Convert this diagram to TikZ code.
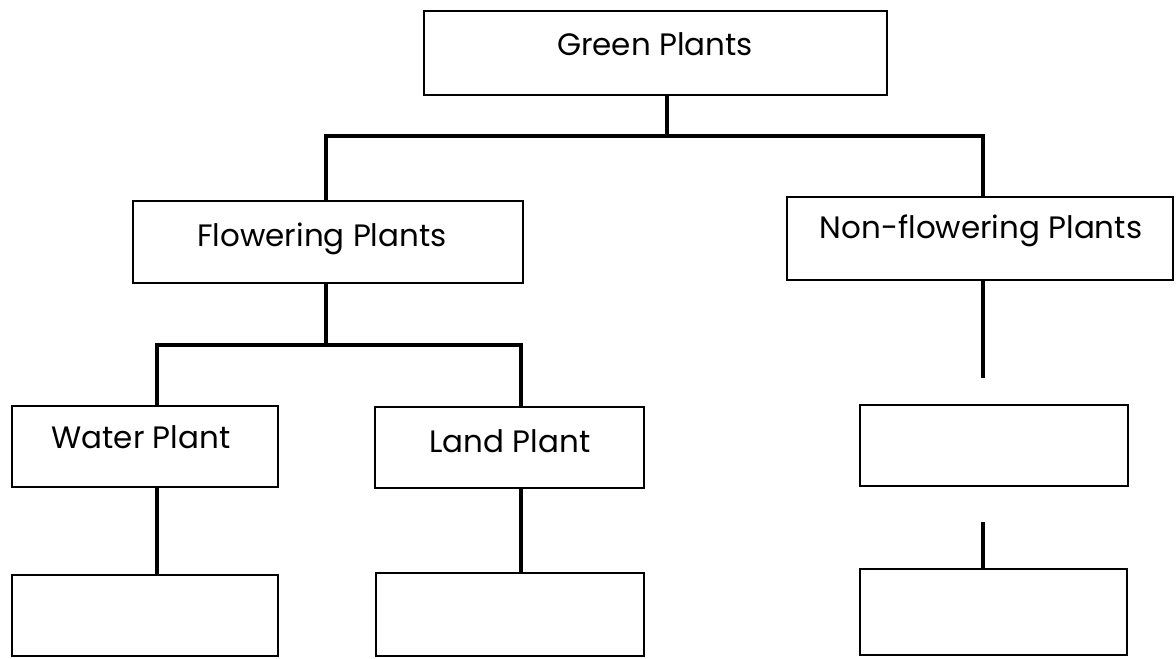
\documentclass[tikz,border=0pt]{standalone}
\usepackage{fontspec}
\setmainfont{Poppins}
\begin{document}
\begin{tikzpicture}[x=0.025cm,y=-0.025cm,
  box/.style={draw=black,line width=1.3pt,rectangle,inner sep=0pt},
  conn/.style={draw=black,line width=2.4pt},
  lbl/.style={inner sep=0pt,anchor=base,font=\fontsize{22}{26}\selectfont}]
\useasboundingbox (0,0) rectangle (1176,658);
% boxes (centre, width, height)
\node[box,minimum width=463*0.025cm,minimum height=84*0.025cm] (green) at (655.5,53) {};
\node[box,minimum width=390*0.025cm,minimum height=82*0.025cm] (flow) at (328,242) {};
\node[box,minimum width=386*0.025cm,minimum height=83*0.025cm] (non) at (980,238.5) {};
\node[box,minimum width=266*0.025cm,minimum height=81*0.025cm] (water) at (145,446.5) {};
\node[box,minimum width=269*0.025cm,minimum height=81*0.025cm] (land) at (509.5,447.5) {};
\node[box,minimum width=266*0.025cm,minimum height=81*0.025cm] (wbox) at (145,615.5) {};
\node[box,minimum width=268*0.025cm,minimum height=83*0.025cm] (lbox) at (510,614.5) {};
\node[box,minimum width=268*0.025cm,minimum height=81*0.025cm] (nbox1) at (994,445.5) {};
\node[box,minimum width=267*0.025cm,minimum height=86*0.025cm] (nbox2) at (993.5,612) {};
% labels
\node[lbl] (tgreen) at (655,55) {Green Plants};
\node[lbl] (tflow) at (322,246) {Flowering Plants};
\node[lbl] (tnon) at (981,238) {Non-flowering Plants};
\node[lbl] (twater) at (141,448) {Water Plant};
\node[lbl] (tland) at (510,452) {Land Plant};
% junctions
\coordinate (j1) at (667,136);
\coordinate (j1l) at (326,136);
\coordinate (j1r) at (983,136);
\coordinate (j2) at (326,345);
\coordinate (j2l) at (157,345);
\coordinate (j2r) at (521,345);
\coordinate (nend) at (983,378);
\coordinate (nstart) at (983,522);
% connectors
\draw[conn] (green.south -| j1) -- (j1);
\draw[conn] (flow.north -| j1l) -- (j1l) -- (j1r) -- (non.north -| j1r);
\draw[conn] (flow.south -| j2) -- (j2);
\draw[conn] (water.north -| j2l) -- (j2l) -- (j2r) -- (land.north -| j2r);
\draw[conn] (water.south -| j2l) -- (wbox.north -| j2l);
\draw[conn] (land.south -| j2r) -- (lbox.north -| j2r);
\draw[conn] (non.south -| nend) -- (nend);
\draw[conn] (nstart) -- (nbox2.north -| nstart);
\end{tikzpicture}
\end{document}
